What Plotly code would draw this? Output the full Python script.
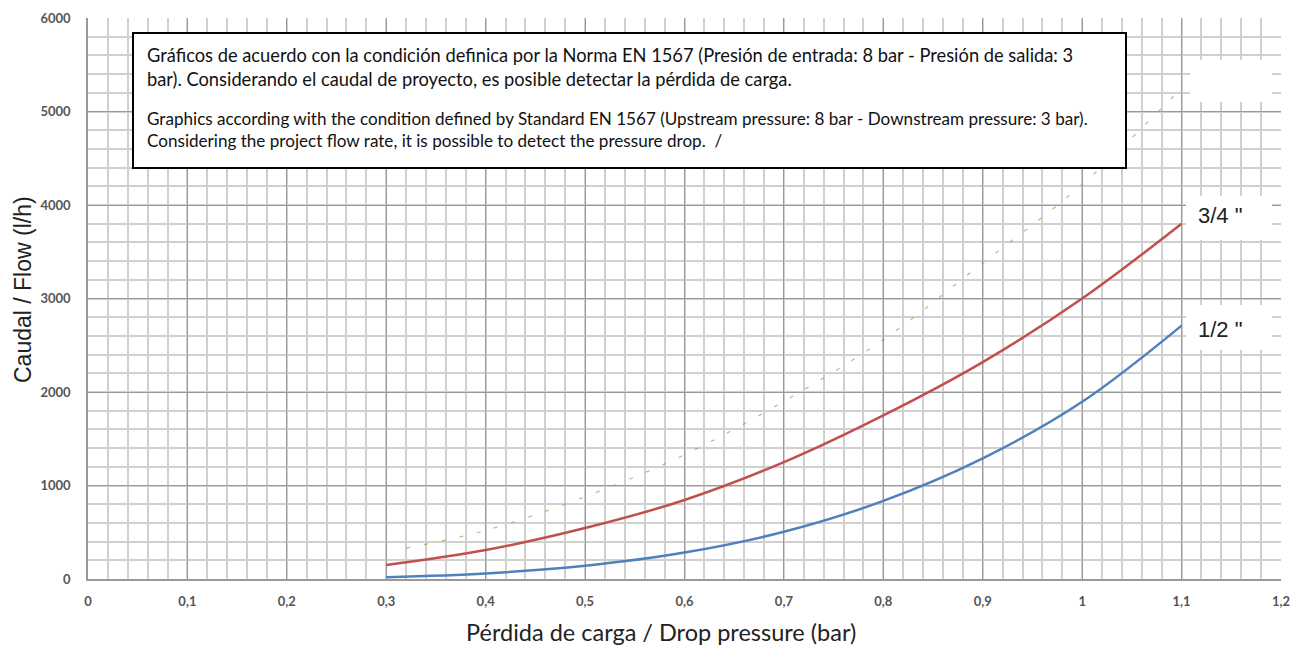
import plotly.graph_objects as go

# ---- data ----
pressure = [0.3, 0.4, 0.5, 0.6, 0.7, 0.8, 0.9, 1.0, 1.1]
flow_34 = [150, 310, 545, 845, 1250, 1750, 2320, 3000, 3800]
flow_12 = [20, 60, 142, 283, 505, 835, 1290, 1895, 2710]
faint_x = [0.32, 0.4, 0.5, 0.6, 0.7, 0.8, 0.9, 1.0, 1.1]
faint_y = [330, 520, 880, 1330, 1900, 2560, 3380, 4220, 5250]

x_tickvals = [0, 0.1, 0.2, 0.3, 0.4, 0.5, 0.6, 0.7, 0.8, 0.9, 1.0, 1.1, 1.2]
x_ticktext = ["0", "0,1", "0,2", "0,3", "0,4", "0,5", "0,6", "0,7", "0,8", "0,9", "1", "1,1", "1,2"]
y_tickvals = [0, 1000, 2000, 3000, 4000, 5000, 6000]
y_ticktext = ["0", "1000", "2000", "3000", "4000", "5000", "6000"]

box_es = ("Gráficos de acuerdo con la condición definica por la Norma EN 1567 (Presión de entrada: 8 bar - Presión de salida: 3<br>"
          "bar). Considerando el caudal de proyecto, es posible detectar la pérdida de carga.")
box_en = ("Graphics according with the condition defined by Standard EN 1567 (Upstream pressure: 8 bar - Downstream pressure: 3 bar).<br>"
          "Considering the project flow rate, it is possible to detect the pressure drop.  /")

OFF = 8  # page body margin
W, H = 1301 - OFF, 647 - OFF
# reference pixel frame: plot area x 88..1281, y 18..579
L, T = 88 - OFF, 18 - OFF
R = W - (1281 - OFF)
B = H - (579 - OFF)
pw, ph = W - L - R, H - T - B

def px(x):
    return (x - OFF - L) / pw

def py(y):
    return (H - B - (y - OFF)) / ph

fig = go.Figure()
fig.add_trace(go.Scatter(x=faint_x, y=faint_y, mode="lines",
                         line=dict(color="rgba(160,165,70,0.75)", width=1.2, dash="4px,14px", shape="spline"),
                         showlegend=False, hoverinfo="skip"))
fig.add_trace(go.Scatter(x=pressure, y=flow_34, mode="lines", name='3/4 "', line=dict(color="#c0504d", width=2.5, shape="spline")))
fig.add_trace(go.Scatter(x=pressure, y=flow_12, mode="lines", name='1/2 "', line=dict(color="#4f81bd", width=2.5, shape="spline")))

shapes = []
for (x0, y0, x1, y1) in [(1190, 60, 1272, 102), (1186, 196, 1272, 240), (1186, 305, 1272, 350)]:
    shapes.append(dict(type="rect", xref="paper", yref="paper", x0=px(x0), x1=px(x1), y0=py(y1), y1=py(y0),
                       fillcolor="white", line=dict(width=0), layer="above"))
shapes.append(dict(type="rect", xref="paper", yref="paper", x0=px(133), x1=px(1126), y0=py(168), y1=py(33),
                   fillcolor="white", line=dict(color="black", width=2), layer="above"))

annotations = [
    dict(xref="paper", yref="paper", x=px(145), y=py(42), xanchor="left", yanchor="top", align="left",
         text=box_es, showarrow=False, font=dict(family="Lato", size=18.3, color="#111111")),
    dict(xref="paper", yref="paper", x=px(145), y=py(106), xanchor="left", yanchor="top", align="left",
         text=box_en, showarrow=False, font=dict(family="Lato", size=17.1, color="#111111")),
    dict(xref="paper", yref="paper", x=px(1196), y=py(216), xanchor="left", yanchor="middle",
         text='3/4 "', showarrow=False, font=dict(family="Liberation Sans", size=22, color="#222222")),
    dict(xref="paper", yref="paper", x=px(1196), y=py(329), xanchor="left", yanchor="middle",
         text='1/2 "', showarrow=False, font=dict(family="Liberation Sans", size=22, color="#222222")),
    dict(xref="paper", yref="paper", x=px(23), y=py(290), xanchor="center", yanchor="middle", textangle=-90,
         text="Caudal / Flow (l/h)", showarrow=False, font=dict(family="Liberation Sans", size=23, color="#222222")),
    dict(xref="paper", yref="paper", x=px(661), y=py(632), xanchor="center", yanchor="middle",
         text="Pérdida de carga / Drop pressure (bar)", showarrow=False, font=dict(family="Lato", size=23.5, color="#222222")),
]

fig.update_layout(
    width=W, height=H,
    margin=dict(l=L, r=R, t=T, b=B, autoexpand=False),
    paper_bgcolor="white", plot_bgcolor="white",
    showlegend=False,
    shapes=shapes, annotations=annotations,
    xaxis=dict(range=[0, 1.2], tickvals=x_tickvals, ticktext=x_ticktext, showgrid=True, gridcolor="#999999", gridwidth=1,
               minor=dict(dtick=0.02, tick0=0, showgrid=True, gridcolor="#d0d0d0", gridwidth=1.5),
               zeroline=False, showline=True, linecolor="#999999", linewidth=1.5, ticks="", ticklabelstandoff=10,
               automargin=False,
               tickfont=dict(family="Lato", size=13, color="#555555", weight="bold"), fixedrange=True),
    yaxis=dict(range=[0, 6000], tickvals=y_tickvals, ticktext=y_ticktext, showgrid=True, gridcolor="#999999", gridwidth=1,
               minor=dict(dtick=200, tick0=0, showgrid=True, gridcolor="#d0d0d0", gridwidth=1.5),
               zeroline=False, showline=True, linecolor="#999999", linewidth=1.5, ticks="", ticklabelstandoff=13,
               automargin=False,
               tickfont=dict(family="Lato", size=13, color="#555555", weight="bold"), fixedrange=True),
)

fig.write_html("out.html")
